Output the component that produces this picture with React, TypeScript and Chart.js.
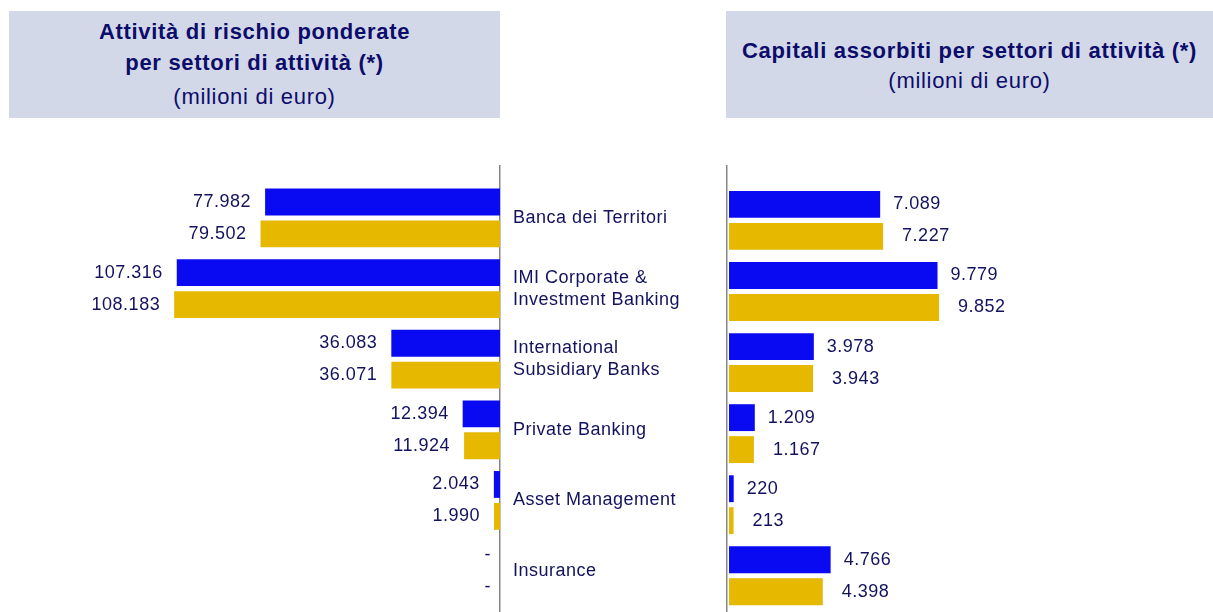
import React, { useEffect, useRef } from 'react';
import { Chart, registerables } from 'chart.js';

Chart.register(...registerables);

// ---------- data ----------
const categories: (string | string[])[] = [
  'Banca dei Territori',
  ['IMI Corporate &', 'Investment Banking'],
  ['International', 'Subsidiary Banks'],
  'Private Banking',
  'Asset Management',
  'Insurance',
];
const rwaBlue = [77982, 107316, 36083, 12394, 2043, 0];
const rwaYellow = [79502, 108183, 36071, 11924, 1990, 0];
const capBlue = [7089, 9779, 3978, 1209, 220, 4766];
const capYellow = [7227, 9852, 3943, 1167, 213, 4398];

const leftTitleLines = ['Attività di rischio ponderate', 'per settori di attività (*)'];
const rightTitleLines = ['Capitali assorbiti per settori di attività (*)'];
const unitLabel = '(milioni di euro)';

// ---------- styles ----------
const FONT = "'Liberation Sans', Arial, Helvetica, sans-serif";
const BLUE = '#0A0AF2';
const YELLOW = '#E6B800';
const TEXT = '#12125E';
const TITLE = '#0C0C6A';
const BOX = '#D3D8E9';
const AXIS = '#858585';

const fmt = (v: number) => String(v).replace(/\B(?=(\d{3})+(?!\d))/g, '.');

const letterSpacingPlugin = {
  id: 'letterSpacing',
  beforeDraw(chart: any) {
    chart.ctx.letterSpacing = '0.5px';
  },
};

const valueLabels = {
  id: 'valueLabels',
  afterDatasetsDraw(chart: any, _args: any, opts: any) {
    const ctx = chart.ctx;
    ctx.save();
    ctx.font = `18px ${FONT}`;
    ctx.fillStyle = TEXT;
    ctx.textBaseline = 'middle';
    chart.data.datasets.forEach((ds: any, di: number) => {
      const meta = chart.getDatasetMeta(di);
      meta.data.forEach((el: any, i: number) => {
        const v = ds.data[i].x;
        const txt = v === 0 ? '-' : fmt(v);
        const gap = v === 0 ? opts.dashGap : opts.gaps[di];
        if (opts.side === 'left') {
          ctx.textAlign = 'right';
          ctx.fillText(txt, el.x - gap, el.y);
        } else {
          ctx.textAlign = 'left';
          ctx.fillText(txt, el.x + gap, el.y);
        }
      });
    });
    ctx.restore();
  },
};

const toPoints = (arr: number[]) => arr.map((v, i) => ({ x: v, y: i }));
const categoryTicks = (scale: any) => {
  scale.ticks = categories.map((_, i) => ({ value: i }));
};

function LeftChart() {
  const ref = useRef<HTMLCanvasElement>(null);
  useEffect(() => {
    const chart = new Chart(ref.current as HTMLCanvasElement, {
      type: 'bar',
      data: {
        datasets: [
          { data: toPoints(rwaBlue) as any, backgroundColor: BLUE, borderWidth: 0, categoryPercentage: 0.905, barPercentage: 0.84 },
          { data: toPoints(rwaYellow) as any, backgroundColor: YELLOW, borderWidth: 0, categoryPercentage: 0.905, barPercentage: 0.84 },
        ],
      },
      options: {
        indexAxis: 'y',
        animation: false,
        responsive: false,
        maintainAspectRatio: false,
        layout: { padding: 0 },
        plugins: {
          legend: { display: false },
          tooltip: { enabled: false },
          valueLabels: { side: 'left', gaps: [14, 14], dashGap: 9 },
        } as any,
        scales: {
          x: { type: 'linear', reverse: true, min: 0, max: 166000, display: false, offset: false },
          y: {
            type: 'linear',
            position: 'right',
            reverse: true,
            offset: false,
            min: -0.75,
            max: 5.58,
            grid: { display: false, drawTicks: false, offset: false },
            border: { display: true, color: AXIS, width: 1.5 },
            ticks: {
              autoSkip: false,
              padding: 13,
              color: TEXT,
              font: { family: FONT, size: 18, lineHeight: 1.22 },
              callback: (v: any) => categories[v as number],
            },
            afterBuildTicks: categoryTicks,
            afterFit: (s: any) => {
              s.width = 200;
              s.paddingTop = 0;
              s.paddingBottom = 0;
            },
          } as any,
        },
      },
      plugins: [letterSpacingPlugin, valueLabels],
    });
    return () => chart.destroy();
  }, []);
  return (
    <canvas
      ref={ref}
      width={700}
      height={447}
      style={{ position: 'absolute', left: 0, top: 165, width: 700, height: 447 }}
    />
  );
}

function RightChart() {
  const ref = useRef<HTMLCanvasElement>(null);
  useEffect(() => {
    const chart = new Chart(ref.current as HTMLCanvasElement, {
      type: 'bar',
      data: {
        datasets: [
          { data: toPoints(capBlue) as any, backgroundColor: BLUE, borderWidth: 0, categoryPercentage: 0.9, barPercentage: 0.84 },
          { data: toPoints(capYellow) as any, backgroundColor: YELLOW, borderWidth: 0, categoryPercentage: 0.9, barPercentage: 0.84 },
        ],
      },
      options: {
        indexAxis: 'y',
        animation: false,
        responsive: false,
        maintainAspectRatio: false,
        layout: { padding: { left: 27, right: 0, top: 0, bottom: 0 } },
        plugins: {
          legend: { display: false },
          tooltip: { enabled: false },
          valueLabels: { side: 'right', gaps: [13, 19], dashGap: 9 },
        } as any,
        scales: {
          x: { type: 'linear', min: -95, max: 22700, display: false, offset: false },
          y: {
            type: 'linear',
            position: 'left',
            reverse: true,
            offset: false,
            min: -0.78,
            max: 5.51,
            grid: { display: false, drawTicks: false, offset: false },
            border: { display: true, color: AXIS, width: 1.5 },
            ticks: { display: false },
            afterBuildTicks: categoryTicks,
            afterFit: (s: any) => {
              s.paddingTop = 0;
              s.paddingBottom = 0;
            },
          } as any,
        },
      },
      plugins: [letterSpacingPlugin, valueLabels],
    });
    return () => chart.destroy();
  }, []);
  return (
    <canvas
      ref={ref}
      width={513}
      height={447}
      style={{ position: 'absolute', left: 700, top: 165, width: 513, height: 447 }}
    />
  );
}

function TitleLine({ text, cy, bold, size }: { text: string; cy: number; bold: boolean; size: number }) {
  return (
    <div
      style={{
        position: 'absolute',
        left: 0,
        right: 0,
        top: cy - 15,
        height: 30,
        lineHeight: '30px',
        textAlign: 'center',
        fontSize: size,
        fontWeight: bold ? 700 : 400,
        letterSpacing: '0.7px',
        color: TITLE,
        whiteSpace: 'nowrap',
      }}
    >
      {text}
    </div>
  );
}

export default function App() {
  return (
    <div
      style={{
        position: 'absolute',
        left: 0,
        top: 0,
        width: 1213,
        height: 612,
        background: '#ffffff',
        fontFamily: FONT,
        overflow: 'hidden',
      }}
    >
      <div style={{ position: 'absolute', left: 9, top: 11, width: 491, height: 107, background: BOX }}>
        <TitleLine text={leftTitleLines[0]} cy={21} bold size={22} />
        <TitleLine text={leftTitleLines[1]} cy={52} bold size={22} />
        <TitleLine text={unitLabel} cy={86} bold={false} size={22} />
      </div>
      <div style={{ position: 'absolute', left: 726, top: 11, width: 487, height: 107, background: BOX }}>
        <TitleLine text={rightTitleLines[0]} cy={40} bold size={22} />
        <TitleLine text={unitLabel} cy={70} bold={false} size={22} />
      </div>
      <LeftChart />
      <RightChart />
    </div>
  );
}
